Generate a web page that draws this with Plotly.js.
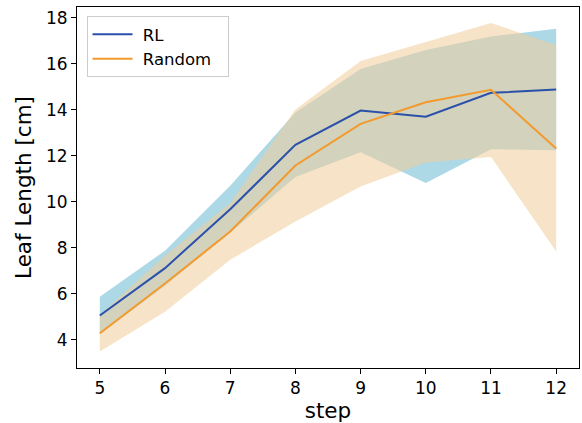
<!DOCTYPE html>
<html>
<head>
<meta charset="utf-8">
<script src="https://cdn.plot.ly/plotly-3.0.1.min.js"></script>
<style>html,body{margin:0;padding:0;background:#fff;}#chart{width:582px;height:423px;}</style>
</head>
<body>
<div id="chart"></div>
<script>
const steps = [5, 6, 7, 8, 9, 10, 11, 12];
const rlMean = [5.06, 7.12, 9.68, 12.48, 13.97, 13.70, 14.74, 14.88];
const rlUpper = [5.88, 7.88, 10.70, 13.88, 15.78, 16.60, 17.19, 17.52];
const rlLower = [4.24, 6.36, 8.66, 11.08, 12.16, 10.82, 12.29, 12.24];
const rndMean = [4.29, 6.45, 8.71, 11.58, 13.39, 14.33, 14.87, 12.32];
const rndUpper = [5.08, 7.67, 9.95, 14.02, 16.12, 16.95, 17.78, 16.82];
const rndLower = [3.50, 5.23, 7.48, 9.15, 10.67, 11.71, 11.95, 7.84];
const seriesNames = ['RL', 'Random'];

const blueFill = 'rgb(173,216,230)';
const orangeFill = 'rgba(240,205,155,0.55)';
const blueLine = '#2b50aa';
const orangeLine = '#f39a2e';

const pad = (s) => '\u00a0' + s + '\u00a0\u00a0';

const traces = [
  {x: steps, y: rlLower, mode: 'lines', line: {width: 0}, showlegend: false, hoverinfo: 'skip'},
  {x: steps, y: rlUpper, mode: 'lines', line: {width: 0}, fill: 'tonexty', fillcolor: blueFill, showlegend: false, hoverinfo: 'skip'},
  {x: steps, y: rndLower, mode: 'lines', line: {width: 0}, showlegend: false, hoverinfo: 'skip'},
  {x: steps, y: rndUpper, mode: 'lines', line: {width: 0}, fill: 'tonexty', fillcolor: orangeFill, showlegend: false, hoverinfo: 'skip'},
  {x: steps, y: rlMean, mode: 'lines', name: pad(seriesNames[0]), line: {color: blueLine, width: 2}},
  {x: steps, y: rndMean, mode: 'lines', name: pad(seriesNames[1]), line: {color: orangeLine, width: 2}}
];

const ff = 'DejaVu Sans, sans-serif';
const layout = {
  width: 582, height: 423,
  margin: {l: 77, r: 3, t: 7, b: 55},
  paper_bgcolor: '#fff', plot_bgcolor: '#fff',
  font: {family: ff, color: '#000'},
  showlegend: true,
  legend: {
    x: 0.019, y: 0.975, xanchor: 'left', yanchor: 'top',
    traceorder: 'normal',
    bgcolor: 'rgba(255,255,255,0.8)', bordercolor: '#cccccc', borderwidth: 1,
    font: {family: ff, size: 16.5, color: '#000'},
    tracegroupgap: 0,
    itemwidth: 40
  },
  xaxis: {
    range: [4.65, 12.35],
    tickvals: steps, ticktext: steps.map(String),
    showgrid: false, zeroline: false,
    showline: true, linecolor: '#000', linewidth: 1, mirror: true,
    ticks: 'outside', ticklen: 5, tickcolor: '#000',
    tickfont: {family: ff, size: 17, color: '#000'},
    title: {text: 'step', font: {family: ff, size: 21.5, color: '#000'}, standoff: 6}
  },
  yaxis: {
    range: [2.78, 18.47],
    tickvals: [4, 6, 8, 10, 12, 14, 16, 18],
    showgrid: false, zeroline: false,
    showline: true, linecolor: '#000', linewidth: 1, mirror: true,
    ticks: 'outside', ticklen: 5, tickcolor: '#000',
    tickfont: {family: ff, size: 17, color: '#000'},
    title: {text: 'Leaf Length [cm]', font: {family: ff, size: 21.5, color: '#000'}, standoff: 8}
  }
};

Plotly.newPlot('chart', traces, layout, {displayModeBar: false, staticPlot: true});
</script>
</body>
</html>
